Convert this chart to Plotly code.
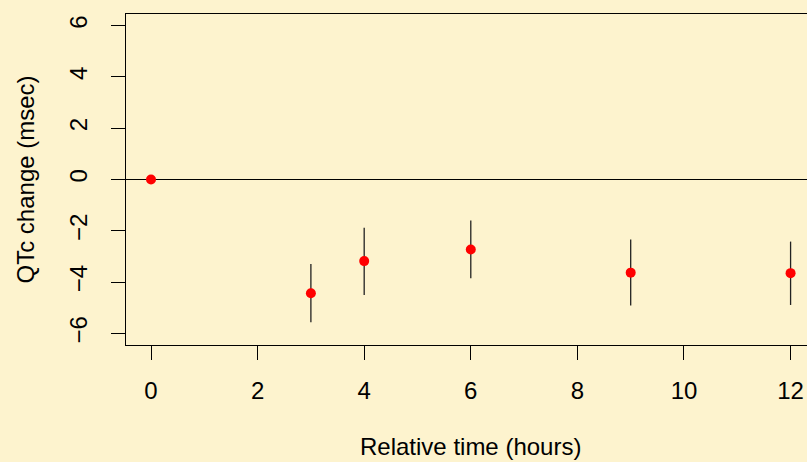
import plotly.graph_objects as go

# QTc change from baseline over time (mean with 90% CI)
hours = [0, 3, 4, 6, 9, 12]
qtc_mean = [0.0, -4.43, -3.18, -2.73, -3.63, -3.65]
ci_lower = [0.0, -5.56, -4.50, -3.85, -4.91, -4.89]
ci_upper = [0.0, -3.29, -1.88, -1.60, -2.34, -2.42]

x_ticks = [0, 2, 4, 6, 8, 10, 12]
y_ticks = [-6, -4, -2, 0, 2, 4, 6]

BG = "#FDF3CE"
FONT = dict(family="Liberation Sans, Arial, Helvetica, sans-serif", size=24, color="black")

err_plus = [hi - m for hi, m in zip(ci_upper, qtc_mean)]
err_minus = [m - lo for lo, m in zip(ci_lower, qtc_mean)]

fig = go.Figure()
fig.add_trace(go.Scatter(
    x=hours, y=qtc_mean, mode="markers",
    marker=dict(color="#FF0000", size=10, line=dict(width=0)),
    error_y=dict(type="data", symmetric=False, array=err_plus, arrayminus=err_minus,
                 width=0, thickness=1.3, color="#222222"),
    showlegend=False, cliponaxis=False,
))

W, H = 807, 462
ML, MT, MB, MR = 126, 14, 117, 0
plot_w = W - ML - MR
plot_h = H - MT - MB

fig.update_layout(
    width=W, height=H,
    margin=dict(l=ML, r=MR, t=MT, b=MB, pad=0),
    paper_bgcolor=BG, plot_bgcolor=BG,
    font=FONT,
    xaxis=dict(
        range=[-0.469, 12.308], tickvals=x_ticks, ticktext=[str(v) for v in x_ticks],
        showgrid=False, zeroline=False,
        showline=True, linecolor="black", linewidth=1, mirror=True,
        ticks="outside", ticklen=14, tickwidth=1, tickcolor="black",
        ticklabelstandoff=10, tickfont=FONT,
    ),
    yaxis=dict(
        range=[-6.45, 6.45], tickvals=y_ticks,
        ticktext=[str(v).replace("-", "\u2212") for v in y_ticks],
        showgrid=False, zeroline=True, zerolinecolor="black", zerolinewidth=1,
        showline=True, linecolor="black", linewidth=1, mirror=False,
        ticks="outside", ticklen=14, tickwidth=1, tickcolor="black",
        tickangle=-90, ticklabelstandoff=14, tickfont=FONT,
    ),
    annotations=[
        dict(text="Relative time (hours)", xref="x", x=6, yref="paper",
             y=(H - MB - 447) / plot_h, xanchor="center", yanchor="middle",
             showarrow=False, font=FONT),
        dict(text="QTc change (msec)", xref="paper", x=(25 - ML) / plot_w,
             yref="y", y=0, xanchor="center", yanchor="middle", textangle=-90,
             showarrow=False, font=FONT),
    ],
)

fig.write_html("out.html")
